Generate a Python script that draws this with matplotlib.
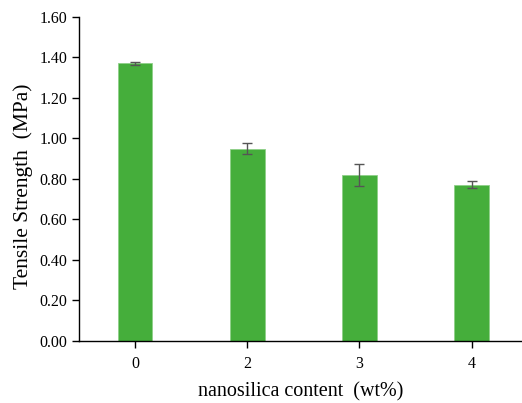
import matplotlib
matplotlib.use("Agg")
import matplotlib.pyplot as plt

# nanosilica content vs tensile strength
categories = ["0", "2", "3", "4"]
strength = [1.372, 0.948, 0.818, 0.772]
errors = [0.007, 0.027, 0.055, 0.016]

plt.rcParams['font.family'] = ['Liberation Serif', 'DejaVu Serif']

fig = plt.figure(figsize=(5.22, 4.03), dpi=100)
ax = fig.add_axes([0.151, 0.154, 0.849, 0.804])

x = list(range(len(categories)))
ax.bar(x, strength, width=0.31, color="#45ae3b", edgecolor="#8fcf88", linewidth=0.6,
       yerr=errors, ecolor="#555555", capsize=3.5, error_kw=dict(elinewidth=1.0, capthick=1.0))

ax.set_xlim(-0.5, 3.45)
ax.set_ylim(0, 1.6)
ax.set_xticks(x)
ax.set_xticklabels(categories)
ax.set_yticks([i * 0.2 for i in range(9)])
ax.set_yticklabels(["%.2f" % (i * 0.2) for i in range(9)])

for s in ["top", "right"]:
    ax.spines[s].set_visible(False)
for s in ["left", "bottom"]:
    ax.spines[s].set_linewidth(1.0)
ax.tick_params(axis="both", direction="out", length=5, width=1.0, labelsize=11.5)
ax.tick_params(axis="x", pad=6)

ax.set_xlabel("nanosilica content  (wt%)", fontsize=14.5, labelpad=7)
ax.set_ylabel("Tensile Strength  (MPa)", fontsize=15.5)
ax.yaxis.set_label_coords(-0.104, 0.478)

fig.savefig("out.png", dpi=100)
